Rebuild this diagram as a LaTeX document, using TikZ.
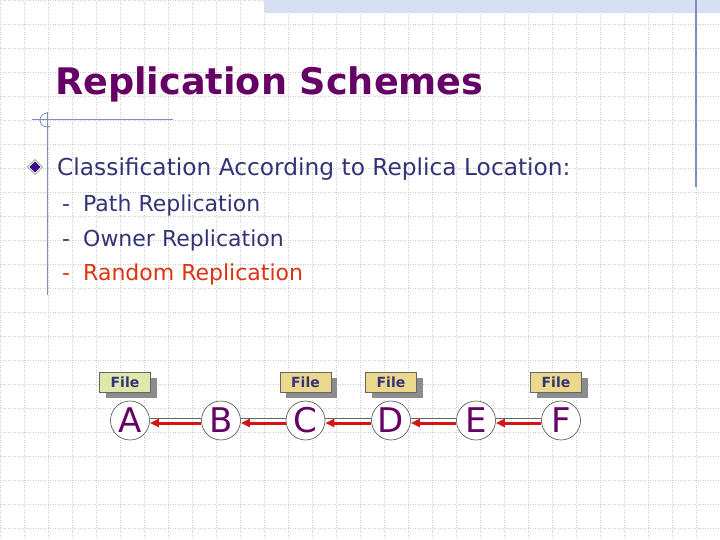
\documentclass[tikz,border=0pt]{standalone}
\usepackage{fontspec}
\setmainfont{DejaVu Sans}
\usetikzlibrary{shapes.geometric, arrows.meta, positioning, shadows}
\definecolor{titlepurple}{RGB}{102, 0, 102}
\definecolor{textblue}{RGB}{51, 51, 119}
\definecolor{randred}{RGB}{221, 51, 17}
\definecolor{decoblue}{RGB}{128, 140, 185}
\definecolor{bandblue}{RGB}{214, 224, 242}
\definecolor{gridgray}{RGB}{205, 205, 205}
\definecolor{filegreen}{RGB}{222, 232, 170}
\definecolor{fileyellow}{RGB}{236, 216, 140}
\definecolor{linkred}{RGB}{214, 20, 20}
\definecolor{bulletpurple}{RGB}{60, 10, 150}

\begin{document}
\begin{tikzpicture}[x=1pt, y=-1pt,
  site/.style={circle, draw=black!70, line width=0.6pt, fill=white, minimum size=39pt, inner sep=0pt, font=\fontsize{34}{34}\selectfont, text=titlepurple},
  filebox/.style={draw=black!60, line width=0.5pt, minimum width=51pt, minimum height=20pt, inner sep=0pt, font=\fontsize{14}{14}\selectfont\bfseries, text=textblue, drop shadow={shadow xshift=6pt, shadow yshift=-6pt, fill=black!45, opacity=1}},
  item/.style={anchor=base west, inner sep=0pt, font=\fontsize{22}{22}\selectfont, text=textblue},
  link/.style={-{Triangle[length=9pt, width=8pt]}, line width=3pt, linkred},
  edge/.style={black!60, line width=0.6pt},
  deco/.style={decoblue, line width=0.8pt}
]
  \useasboundingbox (0,0) rectangle (720,540);
  \fill[white] (0,0) rectangle (720,540);

  % Background grid and frame
  \draw[gridgray, dotted, line width=0.5pt, step=24pt] (0,0) grid (720,540);
  \fill[bandblue] (264,0) rectangle (720,13);
  \draw[deco, line width=1.2pt] (696,0) -- (696,187);
  \draw[deco] (32,119) -- (173,119);
  \draw[deco] (47,112) -- (47,295);
  \draw[deco] (47,113) arc (-90:-300:7);

  % Title and list
  \node[anchor=base west, inner sep=0pt, text=titlepurple, font=\fontsize{36.6}{36.6}\selectfont\bfseries] (title) at (55,95) {Replication Schemes};
  \node[diamond, fill=bulletpurple, draw=black, double=white, double distance=1pt, minimum size=13pt, inner sep=0pt] (dot) at (35,167) {};
  \node[item, font=\fontsize{23.3}{23.3}\selectfont] (classif) at (57,175.5) {Classification According to Replica Location:};
  \node[item] (path) at (62,211.7) {\makebox[21pt][l]{-}Path Replication};
  \node[item] (owner) at (62,246) {\makebox[21pt][l]{-}Owner Replication};
  \node[item, text=randred] (random) at (62,280) {\makebox[21pt][l]{-}Random Replication};

  % Nodes on the path
  \node[site] (nA) at (130,420.5) {A};
  \node[site] (nB) at (221,420.5) {B};
  \node[site] (nC) at (305.5,420.5) {C};
  \node[site] (nD) at (391,420.5) {D};
  \node[site] (nE) at (476,420.5) {E};
  \node[site] (nF) at (561,420.5) {F};

  % Replicas
  \node[filebox, fill=filegreen, above=8pt of nA, xshift=-5pt] (fA) {File};
  \node[filebox, fill=fileyellow, above=8pt of nC, xshift=0pt] (fC) {File};
  \node[filebox, fill=fileyellow, above=8pt of nD, xshift=0pt] (fD) {File};
  \node[filebox, fill=fileyellow, above=8pt of nF, xshift=-5pt] (fF) {File};

  % Links
  \foreach \a/\b in {nB/nA, nC/nB, nD/nC, nE/nD, nF/nE} {
    \draw[edge] ([yshift=2.5pt]\a.west) -- ([yshift=2.5pt]\b.east);
    \draw[link] ([yshift=-2.5pt]\a.west) -- ([yshift=-2.5pt]\b.east);
  }
\end{tikzpicture}
\end{document}
